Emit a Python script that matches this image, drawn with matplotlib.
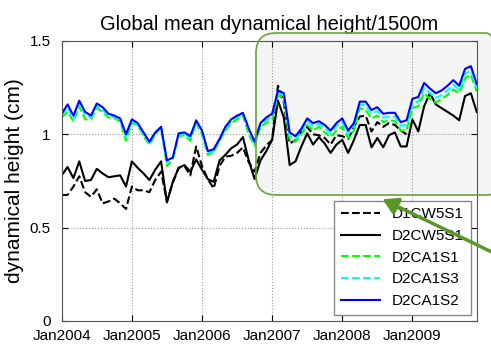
import matplotlib
matplotlib.use("Agg")
import matplotlib.pyplot as plt
import numpy as np
from matplotlib.patches import FancyBboxPatch, FancyArrowPatch
from matplotlib.transforms import IdentityTransform

plt.rcParams['font.family'] = ['Liberation Sans', 'DejaVu Sans']

# monthly values, Jan2004 .. Dec2009
months = np.arange(72)
tick_months = [0, 12, 24, 36, 48, 60]
tick_labels = ["Jan2004", "Jan2005", "Jan2006", "Jan2007", "Jan2008", "Jan2009"]

d1cw5s1 = [0.675, 0.675, 0.72, 0.775, 0.69, 0.665, 0.705, 0.63, 0.64, 0.655, 0.63, 0.60,
           0.72, 0.70, 0.70, 0.69, 0.755, 0.80, 0.64, 0.74, 0.82, 0.83, 0.78, 0.935,
           0.83, 0.76, 0.71, 0.83, 0.88, 0.885, 0.90, 0.93, 0.85, 0.80, 0.90, 0.94,
           0.97, 1.26, 1.17, 0.95, 0.97, 1.015, 1.04, 1.00, 0.995, 0.98, 0.945, 0.995,
           0.99, 0.975, 1.04, 1.095, 1.10, 1.015, 1.065, 1.04, 1.06, 1.05, 1.02, 1.00,
           np.nan, np.nan, np.nan, np.nan, np.nan, np.nan, np.nan, np.nan, np.nan, np.nan, np.nan, np.nan]
d2cw5s1 = [0.78, 0.825, 0.765, 0.855, 0.75, 0.755, 0.815, 0.79, 0.77, 0.775, 0.78, 0.72,
           0.855, 0.82, 0.79, 0.755, 0.81, 0.855, 0.635, 0.745, 0.82, 0.835, 0.80, 0.865,
           0.81, 0.76, 0.745, 0.86, 0.89, 0.925, 0.945, 0.985, 0.86, 0.76, 0.86, 0.91,
           0.97, 1.18, 1.09, 0.835, 0.855, 0.935, 1.005, 0.945, 0.985, 0.95, 0.90, 0.945,
           0.97, 0.90, 0.97, 1.05, 1.05, 0.93, 0.98, 0.93, 0.995, 1.01, 0.935, 0.935,
           1.08, 1.015, 1.15, 1.22, 1.16, 1.14, 1.12, 1.10, 1.075, 1.205, 1.22, 1.12]
d2ca1s1 = [1.09, 1.12, 1.07, 1.15, 1.08, 1.08, 1.14, 1.12, 1.09, 1.085, 1.07, 0.965,
           1.06, 1.05, 0.99, 0.945, 1.00, 1.035, 0.83, 0.865, 0.99, 0.995, 0.965, 1.06,
           1.00, 0.89, 0.905, 0.965, 1.02, 1.06, 1.08, 1.10, 1.00, 0.94, 1.04, 1.06,
           1.08, 1.21, 1.19, 0.97, 0.96, 1.00, 1.05, 1.02, 1.04, 1.01, 0.985, 1.02,
           1.04, 0.98, 1.02, 1.14, 1.13, 1.085, 1.10, 1.065, 1.075, 1.07, 1.02, 1.02,
           1.14, 1.15, 1.22, 1.19, 1.17, 1.19, 1.21, 1.24, 1.22, 1.30, 1.32, 1.23]
d2ca1s3 = [1.10, 1.145, 1.085, 1.165, 1.105, 1.09, 1.15, 1.13, 1.10, 1.09, 1.075, 0.99,
           1.07, 1.05, 1.00, 0.95, 1.005, 1.035, 0.85, 0.87, 0.995, 1.00, 0.98, 1.065,
           1.01, 0.90, 0.91, 0.97, 1.03, 1.07, 1.09, 1.11, 1.02, 0.95, 1.05, 1.075,
           1.095, 1.225, 1.205, 0.99, 0.975, 1.015, 1.07, 1.045, 1.055, 1.035, 1.005, 1.045,
           1.065, 1.00, 1.045, 1.16, 1.155, 1.11, 1.125, 1.09, 1.095, 1.095, 1.045, 1.05,
           1.165, 1.175, 1.25, 1.22, 1.195, 1.21, 1.235, 1.265, 1.24, 1.325, 1.34, 1.25]
d2ca1s2 = [1.11, 1.16, 1.10, 1.18, 1.12, 1.10, 1.165, 1.145, 1.11, 1.10, 1.085, 1.00,
           1.08, 1.06, 1.01, 0.96, 1.01, 1.04, 0.86, 0.875, 1.005, 1.01, 0.99, 1.075,
           1.02, 0.91, 0.92, 0.975, 1.04, 1.08, 1.10, 1.115, 1.03, 0.96, 1.06, 1.09,
           1.11, 1.235, 1.22, 1.01, 0.99, 1.03, 1.085, 1.06, 1.07, 1.05, 1.02, 1.06,
           1.085, 1.02, 1.06, 1.175, 1.175, 1.13, 1.145, 1.11, 1.115, 1.115, 1.065, 1.075,
           1.19, 1.20, 1.275, 1.245, 1.22, 1.235, 1.26, 1.29, 1.26, 1.35, 1.365, 1.27]

fig = plt.figure(figsize=(4.91, 3.47), dpi=100)
ax = fig.add_axes([0.1257, 0.075, 0.8452, 0.807])

ax.plot(months, d1cw5s1, color='black', ls='--', lw=1.5, label='D1CW5S1')
ax.plot(months, d2cw5s1, color='black', ls='-', lw=1.5, label='D2CW5S1')
ax.plot(months, d2ca1s1, color='#00ff00', ls='--', lw=1.5, label='D2CA1S1')
ax.plot(months, d2ca1s3, color='#00ffff', ls='--', lw=1.5, label='D2CA1S3')
ax.plot(months, d2ca1s2, color='#0000ff', ls='-', lw=1.5, label='D2CA1S2')

ax.set_xlim(0, 71)
ax.set_ylim(0, 1.5)
ax.set_xticks(tick_months)
ax.set_xticklabels(tick_labels)
ax.set_yticks([0, 0.5, 1, 1.5])
ax.set_yticklabels(["0", "0.5", "1", "1.5"])
ax.tick_params(direction='in', labelsize=11, length=4, top=True, right=True)
ax.tick_params(axis='x', pad=6)
ax.tick_params(axis='y', pad=8)
ax.grid(True, ls=':', color='#999999', lw=0.8)
ax.set_ylabel("dynamical height (cm)", fontsize=15, labelpad=4)
ax.set_title("Global mean dynamical height/1500m", fontsize=14.5, pad=8)
for s in ax.spines.values():
    s.set_color('#555555')
    s.set_linewidth(0.8)

leg = ax.legend(loc='lower right', fontsize=11, fancybox=False, framealpha=1,
                edgecolor='#888888', borderaxespad=0.4, handlelength=2.5,
                labelspacing=0.5, borderpad=0.45)
leg.set_zorder(10)

# highlight box (display pixels, origin bottom-left): fill behind lines, edge above
H = 347
box_fill = FancyBboxPatch((256, H - 195), 250, 162, boxstyle="round,pad=0,rounding_size=20",
                          transform=IdentityTransform(), facecolor='#f3f6f4',
                          edgecolor='none', clip_on=False, zorder=0.3)
fig.patches.append(box_fill)
box_fill.set_figure(fig)
box_edge = FancyBboxPatch((256, H - 195), 250, 162, boxstyle="round,pad=0,rounding_size=20",
                          transform=IdentityTransform(), facecolor='none',
                          edgecolor='#6ea03c', lw=1.2, clip_on=False, zorder=6)
ax.add_artist(box_edge)

arrow = FancyArrowPatch((500, H - 256), (380, H - 198), transform=IdentityTransform(),
                        arrowstyle='-|>,head_length=6,head_width=3.5', color='#5a9628',
                        lw=2.5, clip_on=False, zorder=11, mutation_scale=1.5)
ax.add_artist(arrow)

ax.patch.set_alpha(0)
fig.patch.set_facecolor('white')
box_fill.set_zorder(-1)

fig.savefig("out.png", dpi=100)
